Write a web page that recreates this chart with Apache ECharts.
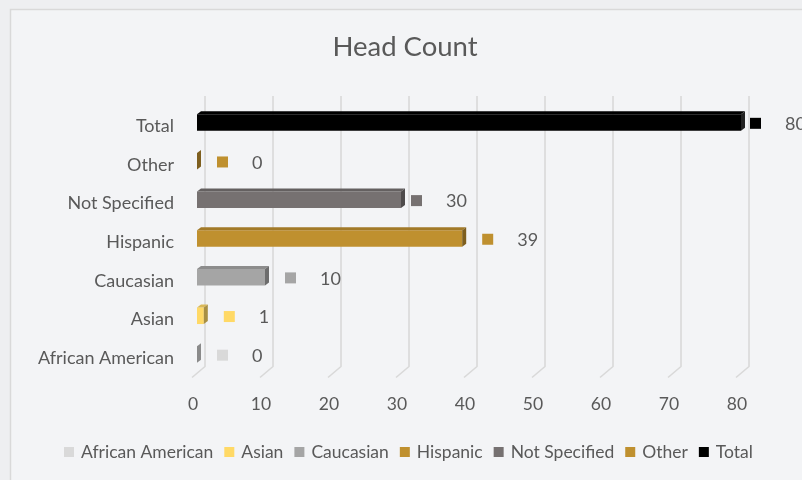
<!DOCTYPE html>
<html>
<head>
<meta charset="utf-8">
<script src="https://cdn.jsdelivr.net/npm/echarts@6/dist/echarts.min.js"></script>
<style>
  html, body { margin:0; padding:0; background:#eeeff1; }
  #chart { width:802px; height:480px; }
</style>
</head>
<body>
<div id="chart"></div>
<script>
const categories = ['African American', 'Asian', 'Caucasian', 'Hispanic', 'Not Specified', 'Other', 'Total'];
const values = [0, 1, 10, 39, 30, 0, 80];
const seriesColors = ['#d9d9d9', '#ffd966', '#a5a5a5', '#bf902f', '#767171', '#bf902f', '#000000'];
const xTicks = [0, 10, 20, 30, 40, 50, 60, 70, 80];

const FONT = 'Lato, "Liberation Sans", sans-serif';
const TXT = '#595959';
// label key offset from bar end (style only)
const labelGapStyle = { 'Not Specified': 10, 'Total': 9 };

function shade(hex, f) {
  const n = parseInt(hex.slice(1), 16);
  const r = Math.round(((n >> 16) & 255) * f), g = Math.round(((n >> 8) & 255) * f), b = Math.round((n & 255) * f);
  return 'rgb(' + r + ',' + g + ',' + b + ')';
}
function sideColor(hex) {
  if (hex === '#d9d9d9') return '#8a8a8a';
  if (hex === '#000000') return '#222';
  return shade(hex, 0.66);
}

const chart = echarts.init(document.getElementById('chart'), null, { renderer: 'canvas' });

const gridSeries = {
  type: 'custom',
  name: '__grid',
  silent: true,
  z: 0,
  clip: false,
  data: xTicks.map(t => [t, 0]),
  renderItem: function (params, api) {
    const p = api.coord([api.value(0), 0]);
    const cs = params.coordSys;
    const bottom = cs.y + cs.height;
    const fx = p[0] - 1, bx = p[0] + 12;
    return {
      type: 'polyline',
      shape: { points: [[bx, cs.y - 11], [bx, bottom - 11], [fx, bottom]] },
      style: { stroke: '#d9d9d9', lineWidth: 1.6, fill: null }
    };
  }
};

const barSeries = categories.map((cat, i) => ({
  type: 'custom',
  name: cat,
  z: 2,
  clip: false,
  itemStyle: { color: seriesColors[i] },
  data: [[values[i], i]],
  renderItem: function (params, api) {
    const v = api.value(0), ci = api.value(1);
    const p0 = api.coord([0, ci]);
    const p1 = api.coord([v, ci]);
    const cy = p0[1];
    const x0 = p0[0] + 4, x1 = p1[0] + 4;
    const ft = cy - 12, fb = cy + 4.5, d = 4, dy = 3;
    const col = seriesColors[i];
    const children = [];
    if (x1 > x0) {
      children.push({ type: 'rect', shape: { x: x0, y: ft, width: x1 - x0, height: fb - ft }, style: { fill: col } });
      children.push({ type: 'polygon', shape: { points: [[x0, ft], [x0 + d, ft - dy], [x1 + d, ft - dy], [x1, ft]] }, style: { fill: shade(col, 0.85) } });
    }
    children.push({ type: 'polygon', shape: { points: [[x1, ft], [x1 + d, ft - dy], [x1 + d, fb - dy], [x1, fb]] }, style: { fill: sideColor(col) } });
    const gap = labelGapStyle[cat] !== undefined ? labelGapStyle[cat] : 20;
    const sqX = x1 + gap;
    const ly = cy - 3;
    children.push({ type: 'rect', shape: { x: sqX, y: ly - 5.5, width: 11, height: 11 }, style: { fill: col } });
    children.push({ type: 'text', style: { text: String(v), x: sqX + 35, y: ly + 1, fill: TXT, font: '18px ' + FONT, textAlign: 'left', textVerticalAlign: 'middle' } });
    return { type: 'group', children: children };
  }
}));

chart.setOption({
  backgroundColor: '#eeeff1',
  animation: false,
  graphic: [{
    type: 'rect', z: -10, silent: true,
    shape: { x: 10.5, y: 9.5, width: 800, height: 480 },
    style: { fill: '#f3f4f6', stroke: '#d9d9d9', lineWidth: 1.5 }
  }],
  title: {
    text: 'Head Count',
    left: 400,
    textAlign: 'center',
    top: 28,
    textStyle: { fontFamily: FONT, fontSize: 27.5, fontWeight: 'normal', color: TXT }
  },
  legend: {
    bottom: 14,
    left: 59,
    itemWidth: 10,
    itemHeight: 10,
    itemGap: 11,
    icon: 'rect',
    data: categories.map((c, i) => ({ name: c, icon: 'rect', itemStyle: { color: seriesColors[i] } })),
    textStyle: { fontFamily: FONT, fontSize: 17.5, color: TXT, padding: [0, 0, 0, 2] }
  },
  grid: { left: 193, width: 544, top: 107, height: 270.5, containLabel: false },
  xAxis: {
    type: 'value', min: 0, max: 80, interval: 10,
    axisLine: { show: false }, axisTick: { show: false }, splitLine: { show: false },
    axisLabel: { margin: 18, fontFamily: FONT, fontSize: 17.5, color: TXT, formatter: v => xTicks.indexOf(v) >= 0 ? String(v) : '' }
  },
  yAxis: {
    type: 'category', data: categories,
    axisLine: { show: false }, axisTick: { show: false }, splitLine: { show: false },
    axisLabel: { margin: 19, fontFamily: FONT, fontSize: 18, color: TXT }
  },
  series: [gridSeries].concat(barSeries)
});
</script>
</body>
</html>
